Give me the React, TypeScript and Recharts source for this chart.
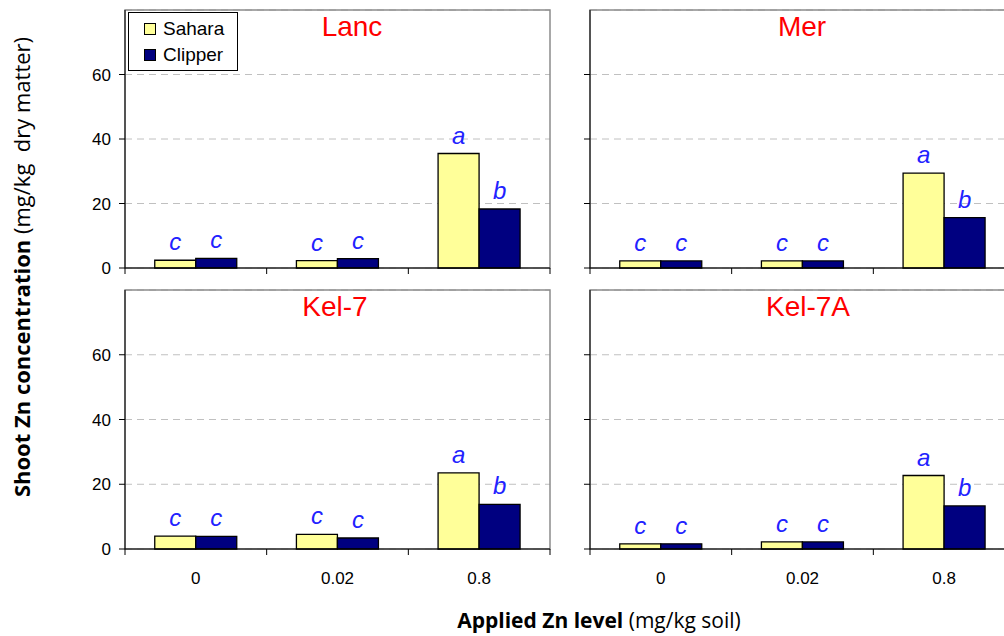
import React from "react";
import {
  BarChart,
  Bar,
  XAxis,
  YAxis,
  CartesianGrid,
  ReferenceArea,
  LabelList,
} from "recharts";

const categories = ["0", "0.02", "0.8"];
const yTicks = [0, 20, 40, 60];

const lancSahara = [2.4, 2.3, 35.5];
const lancClipper = [3.0, 2.9, 18.3];
const merSahara = [2.2, 2.2, 29.4];
const merClipper = [2.2, 2.2, 15.6];
const kel7Sahara = [4.0, 4.5, 23.5];
const kel7Clipper = [3.9, 3.4, 13.8];
const kel7aSahara = [1.6, 2.2, 22.7];
const kel7aClipper = [1.6, 2.2, 13.3];

const saharaLetters = ["c", "c", "a"];
const clipperLetters = ["c", "c", "b"];

const SAHARA = "#ffff99";
const CLIPPER = "#000080";
const LETTER = "#2222ff";
const FONT = "'Liberation Sans', Arial, sans-serif";
const LABEL_FONT = "'Open Sans', sans-serif";

function buildRows(sahara: number[], clipper: number[]) {
  return categories.map((c, i) => ({
    level: c,
    sahara: sahara[i],
    clipper: clipper[i],
    sLetter: saharaLetters[i],
    cLetter: clipperLetters[i],
  }));
}

const Letter = (props: any) => {
  const { x, y, width, value } = props;
  return (
    <text
      x={x + width / 2}
      y={y - 10}
      textAnchor="middle"
      fontSize={24}
      fontStyle="italic"
      fontFamily={FONT}
      fill={LETTER}
    >
      {value}
    </text>
  );
};

const XTick = (props: any) => {
  const { x, y, payload, index, halfBand, showLabel } = props;
  return (
    <g>
      <line x1={x - halfBand} x2={x - halfBand} y1={y} y2={y + 6} stroke="#000" />
      {index === 2 && (
        <line x1={x + halfBand} x2={x + halfBand} y1={y} y2={y + 6} stroke="#000" />
      )}
      {showLabel && (
        <text x={x} y={y + 35} textAnchor="middle" fontSize={17} fontFamily={FONT} fill="#000">
          {payload.value}
        </text>
      )}
    </g>
  );
};

interface PanelProps {
  title: string;
  sahara: number[];
  clipper: number[];
  left: number;
  top: number;
  height: number;
  xAxisHeight: number;
  marginBottom: number;
  showYLabels: boolean;
  showXLabels: boolean;
  titleX: number;
}

const CHART_W = 490;
const MARGIN_R = 5;

function Panel(p: PanelProps) {
  const data = buildRows(p.sahara, p.clipper);
  const plotW = CHART_W - 60 - MARGIN_R;
  const halfBand = plotW / 6;
  return (
    <div style={{ position: "absolute", left: p.left, top: p.top }}>
      <BarChart
        width={CHART_W}
        height={p.height}
        data={data}
        margin={{ top: 10, right: MARGIN_R, left: 0, bottom: p.marginBottom }}
        barCategoryGap="21%"
        barGap={0}
      >
        <CartesianGrid vertical={false} stroke="#c0c0c0" strokeDasharray="7 5" />
        <ReferenceArea y1={0} y2={80} fill="none" stroke="#8c8c8c" strokeWidth={1.5} ifOverflow="visible" />
        <XAxis
          dataKey="level"
          height={p.xAxisHeight}
          stroke="#000"
          tickLine={false}
          tickSize={0}
          tickMargin={0}
          interval={0}
          tick={<XTick halfBand={halfBand} showLabel={p.showXLabels} />}
        />
        <YAxis
          domain={[0, 80]}
          ticks={yTicks}
          width={60}
          stroke="#000"
          tickSize={6}
          tickMargin={8}
          tick={{ fontSize: 17, fontFamily: FONT, fill: "#000" }}
          tickFormatter={(v) => (p.showYLabels ? String(v) : "")}
        />
        <Bar dataKey="sahara" fill={SAHARA} stroke="#000" strokeWidth={1.3} isAnimationActive={false}>
          <LabelList dataKey="sLetter" content={<Letter />} />
        </Bar>
        <Bar dataKey="clipper" fill={CLIPPER} stroke="#000" strokeWidth={1.3} isAnimationActive={false}>
          <LabelList dataKey="cLetter" content={<Letter />} />
        </Bar>
      </BarChart>
      <div
        style={{
          position: "absolute",
          left: p.titleX - p.left - 100,
          top: 10,
          width: 200,
          textAlign: "center",
          color: "#ff0000",
          fontFamily: FONT,
          fontSize: 28,
          lineHeight: "34px",
        }}
      >
        {p.title}
      </div>
    </div>
  );
}

function LegendBox() {
  const item = (color: string, label: string) => (
    <div style={{ display: "flex", alignItems: "center", height: 26 }}>
      <span
        style={{
          display: "inline-block",
          width: 10,
          height: 10,
          background: color,
          border: "1px solid #000",
          marginLeft: 15,
          marginRight: 7,
        }}
      />
      <span style={{ fontFamily: FONT, fontSize: 19, color: "#000" }}>{label}</span>
    </div>
  );
  return (
    <div
      style={{
        position: "absolute",
        left: 128,
        top: 12,
        width: 110,
        height: 59,
        border: "1px solid #000",
        background: "#fff",
        paddingTop: 3,
        boxSizing: "border-box",
      }}
    >
      {item(SAHARA, "Sahara")}
      {item(CLIPPER, "Clipper")}
    </div>
  );
}

export default function App() {
  return (
    <div
      style={{
        position: "absolute",
        left: 0,
        top: 0,
        width: 1004,
        height: 636,
        background: "#fff",
        overflow: "hidden",
      }}
    >
      <Panel
        title="Lanc" sahara={lancSahara} clipper={lancClipper}
        left={65} top={0} height={300} xAxisHeight={30}
        marginBottom={2} showYLabels showXLabels={false} titleX={352}
      />
      <Panel
        title="Mer" sahara={merSahara} clipper={merClipper}
        left={530} top={0} height={300} xAxisHeight={30}
        marginBottom={2} showYLabels={false} showXLabels={false} titleX={802}
      />
      <Panel
        title="Kel-7" sahara={kel7Sahara} clipper={kel7Clipper}
        left={65} top={280} height={320} xAxisHeight={50}
        marginBottom={1} showYLabels showXLabels titleX={335}
      />
      <Panel
        title="Kel-7A" sahara={kel7aSahara} clipper={kel7aClipper}
        left={530} top={280} height={320} xAxisHeight={50}
        marginBottom={1} showYLabels={false} showXLabels titleX={808}
      />
      <LegendBox />
      <svg width={1004} height={636} style={{ position: "absolute", left: 0, top: 0, pointerEvents: "none" }}>
        <text
          transform="translate(30, 267) rotate(-90)"
          textAnchor="middle"
          fontFamily={LABEL_FONT}
          fontSize={22}
          fill="#000"
        >
          <tspan fontWeight="bold">Shoot Zn concentration</tspan>
          <tspan>{" (mg/kg\u00a0 dry matter)"}</tspan>
        </text>
        <text x={599} y={628} textAnchor="middle" fontFamily={LABEL_FONT} fontSize={21} fill="#000">
          <tspan fontWeight="bold">Applied Zn level</tspan>
          <tspan> (mg/kg soil)</tspan>
        </text>
      </svg>
    </div>
  );
}
